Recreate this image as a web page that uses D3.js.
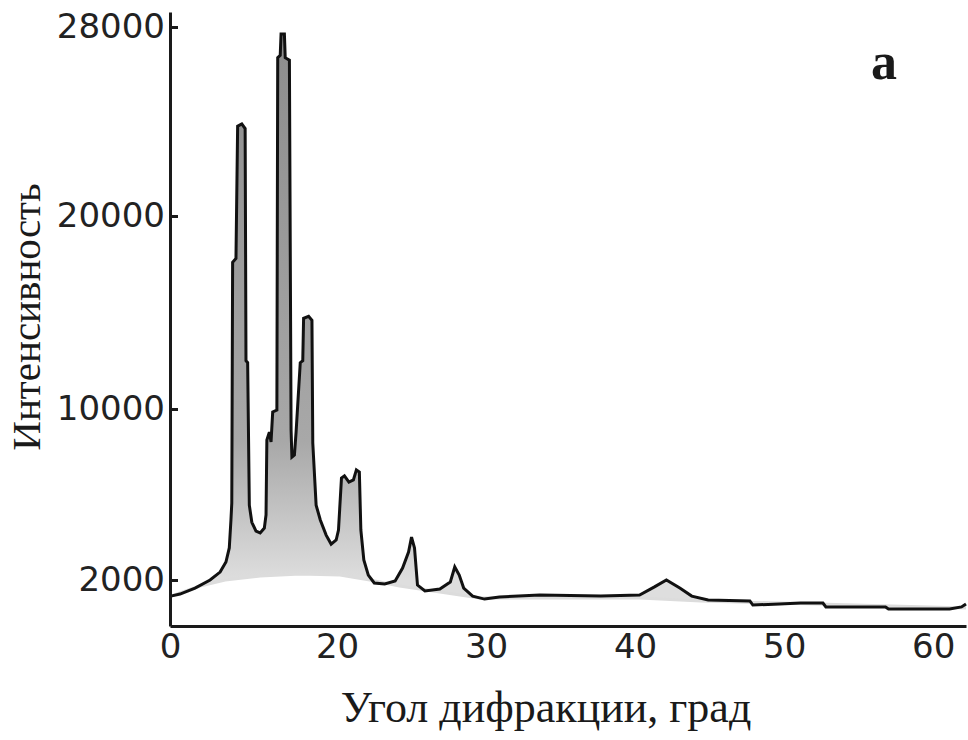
<!DOCTYPE html>
<meta charset="utf-8">
<svg width="968" height="740"></svg>

<style>
body { margin: 0; background: #fff; }
svg { display: block; }
.peaks { fill: url(#peakFill); stroke: none; }
.background { fill: none; stroke: #dcdcdc; stroke-width: 3; }
.pattern { fill: none; stroke: #111; stroke-width: 3; stroke-linejoin: miter; }
.axis .domain { stroke: #1a1a1a; stroke-width: 3; }
.axis .tick line { stroke: #1a1a1a; stroke-width: 3; }
.axis text { font-family: 'DejaVu Sans', sans-serif; font-size: 34px; fill: #222; }
.title { font-family: 'Liberation Serif', 'Times New Roman', serif; fill: #1a1a1a; }
</style>

<script src="https://d3js.org/d3.v7.min.js"></script>

<script>

// diffraction pattern (angle in axis units, intensity in counts)
var angle = [0.1, 1.2, 3.0, 4.8, 6.0, 6.7, 7.1, 7.3, 7.4, 7.5, 7.9, 8.1, 8.6, 9.0, 9.1, 9.3, 9.5, 9.8,
  10.3, 10.8, 11.3, 11.5, 11.6, 11.9, 12.1, 12.3, 12.8, 12.9, 13.2, 13.3, 13.7, 13.8, 14.3, 14.5,
  14.6, 14.9, 15.1, 15.6, 15.9, 16.0, 16.6, 17.0, 17.1, 17.5, 18.0, 18.7, 19.3, 19.9, 20.1, 20.3,
  20.5, 20.8, 21.1, 21.3, 21.5, 21.6, 21.8, 22.1, 22.5, 23.2, 23.9, 24.4, 24.8, 25.0, 25.2, 25.4,
  25.9, 26.9, 27.6, 27.9, 28.2, 28.5, 29.1, 29.9, 30.9, 33.6, 37.7, 40.3, 41.3, 42.1, 43.0, 43.8,
  44.9, 47.7, 47.9, 49.7, 51.1, 52.6, 52.8, 56.8, 57.0, 61.1, 61.9, 62.2];
var intensity = [1300, 1390, 1650, 2000, 2370, 2840, 3500, 4810, 5600, 17600, 17800, 23800, 23900, 23700, 12500, 12400, 5500, 4700,
  4290, 4200, 4430, 5040, 8550, 8920, 8460, 9860, 9950, 26700, 26800, 27700, 27700, 26700, 26600, 9020,
  7750, 7850, 8920, 12400, 12500, 14700, 14800, 14600, 8410, 5500, 4810, 4100, 3680, 3870, 4340, 6770,
  6870, 6580, 6680, 7150, 7050, 4340, 2940, 2230, 1870, 1830, 1960, 2560, 3310, 4010, 3500, 1780,
  1520, 1610, 1910, 2610, 2230, 1650, 1300, 1170, 1260, 1350, 1300, 1350, 1700, 2000, 1650, 1300,
  1130, 1090, 910, 960, 1000, 1000, 830, 830, 740, 740, 830, 960];

// fitted background under the peaks
var bgAngle = [0.1, 3.6, 6.6, 10.8, 15.6, 20.2, 22.2, 24.2, 26.9, 29.6, 40.3, 44.4, 62.2];
var bgIntensity = [1300, 1740, 2000, 2190, 2280, 2230, 2000, 1740, 1480, 1220, 1220, 1090, 780];

var xTicks = [0, 20, 30, 40, 50, 60];
var yTicks = [2000, 10000, 20000, 28000];

var svg = d3.select("svg");

// the printed tick labels are not evenly spaced, so both scales are piecewise
var x = d3.scaleLinear()
    .domain([0, 20, 62.2])
    .range([170, 337, 966]);

var y = d3.scaleLinear()
    .domain([0, 2000, 10000, 20000, 28000, 28350])
    .range([626, 580, 409, 216, 27, 12]);

var bg = d3.scaleLinear().domain(bgAngle).range(bgIntensity);

// peak fill gets lighter towards the background line
var grad = svg.append("defs").append("linearGradient")
    .attr("id", "peakFill")
    .attr("gradientUnits", "userSpaceOnUse")
    .attr("x1", 0).attr("x2", 0)
    .attr("y1", y(28000)).attr("y2", y(2000));
grad.append("stop").attr("offset", "0%").attr("stop-color", "#8c8c8c");
grad.append("stop").attr("offset", "75%").attr("stop-color", "#a8a8a8");
grad.append("stop").attr("offset", "100%").attr("stop-color", "#dedede");

var data = angle.map(function(a, i) { return {a: a, v: intensity[i]}; });

var area = d3.area()
    .x(function(d) { return x(d.a); })
    .y0(function(d) { return y(Math.min(bg(d.a), d.v)); })
    .y1(function(d) { return y(d.v); });

var line = d3.line()
    .x(function(d) { return x(d.a); })
    .y(function(d) { return y(d.v); });

svg.append("path")
    .datum(data)
    .attr("class", "peaks")
    .attr("d", area);

svg.append("path")
    .datum(bgAngle.map(function(a, i) { return {a: a, v: bgIntensity[i]}; }))
    .attr("class", "background")
    .attr("d", line);

svg.append("path")
    .datum(data)
    .attr("class", "pattern")
    .attr("d", line);

svg.append("g")
    .attr("class", "axis")
    .attr("transform", "translate(170,0)")
    .call(d3.axisLeft(y)
      .tickValues(yTicks)
      .tickSizeInner(-8)
      .tickSizeOuter(0)
      .tickPadding(5)
      .tickFormat(d3.format("d")));

svg.append("g")
    .attr("class", "axis")
    .attr("transform", "translate(0,626)")
    .call(d3.axisBottom(x)
      .tickValues(xTicks)
      .tickSize(0)
      .tickPadding(8));

svg.selectAll(".axis").attr("font-family", null).attr("font-size", null);

svg.append("text")
    .attr("class", "title")
    .attr("transform", "translate(40,317) rotate(-90)")
    .attr("text-anchor", "middle")
    .style("font-size", "41px")
    .text("Интенсивность");

svg.append("text")
    .attr("class", "title")
    .attr("x", 546)
    .attr("y", 722)
    .attr("text-anchor", "middle")
    .style("font-size", "44px")
    .text("Угол дифракции, град");

svg.append("text")
    .attr("class", "title")
    .attr("x", 884)
    .attr("y", 79)
    .attr("text-anchor", "middle")
    .style("font-size", "52px")
    .style("font-weight", "bold")
    .text("a");

</script>
